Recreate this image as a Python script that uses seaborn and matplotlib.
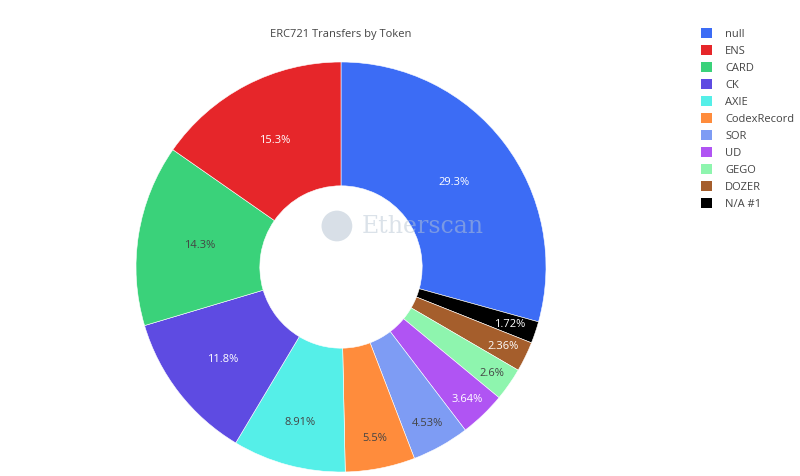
import matplotlib
matplotlib.use("Agg")
import matplotlib.pyplot as plt
import seaborn as sns
import numpy as np
from matplotlib.patches import Patch, Circle

sns.set_theme(style="white")
plt.rcParams['font.family'] = ['Open Sans', 'DejaVu Sans']

# data (legend order)
tokens = ["null", "ENS", "CARD", "CK", "AXIE", "CodexRecord", "SOR", "UD", "GEGO", "DOZER", "N/A #1"]
shares = [29.3, 15.3, 14.3, 11.8, 8.91, 5.5, 4.53, 3.64, 2.6, 2.36, 1.72]
colors = ["#3C6CF5", "#E6262A", "#3AD27A", "#5E4BE2", "#55EFE8", "#FF8C3C",
          "#7E9CF4", "#B054F3", "#8EF5AE", "#A55E2C", "#000000"]
text_colors = ["white", "white", "#444444", "white", "#444444", "#444444",
               "#444444", "white", "#444444", "white", "white"]
label_radius = [0.69, 0.70, 0.70, 0.73, 0.78, 0.85, 0.87, 0.89, 0.90, 0.88, 0.87]
title = "ERC721 Transfers by Token"

# draw order: clockwise from 12 o'clock -> null, then smallest to largest
order = [0] + list(range(len(tokens) - 1, 0, -1))

fig = plt.figure(figsize=(8, 4.77), dpi=100)
W, H = 800, 477
cx, cy, R = 341, 268, 205
ax = fig.add_axes([(cx - R) / W, (H - cy - R) / H, 2 * R / W, 2 * R / H])

vals = [shares[i] for i in order]
cols = [colors[i] for i in order]
wedges, _ = ax.pie(vals, colors=cols, startangle=90, counterclock=False,
                   radius=1.0, wedgeprops=dict(width=0.604, edgecolor="white", linewidth=0.4))
ax.set_xlim(-1, 1)
ax.set_ylim(-1, 1)
ax.set_aspect("equal")
ax.axis("off")

for w, i in zip(wedges, order):
    ang = np.deg2rad((w.theta1 + w.theta2) / 2)
    r = label_radius[i]
    ax.text(r * np.cos(ang), r * np.sin(ang), f"{shares[i]:g}%",
            ha="center", va="center", fontsize=8, color=text_colors[i])

# watermark
ax.add_patch(Circle((-0.02, 0.2), 0.075, color="#B8C6D4", alpha=0.55, zorder=5, lw=0))
ax.text(0.1, 0.2, "Etherscan", fontsize=17, family="DejaVu Serif", color="#B8C6D4",
        alpha=0.5, ha="left", va="center", zorder=5)

fig.text(cx / W, 1 - 35 / H, title, ha="center", va="center", fontsize=8, color="#444444")

handles = [Patch(facecolor=c, edgecolor="none") for c in colors]
leg = fig.legend(handles, tokens, loc="upper left", bbox_to_anchor=(695 / W, 1 - 23 / H),
                 frameon=False, fontsize=8, handlelength=1.0, handleheight=1.0,
                 handletextpad=1.2, labelspacing=0.47, borderpad=0)
for t in leg.get_texts():
    t.set_color("#444444")

fig.savefig("out.png", dpi=100, facecolor="white")
